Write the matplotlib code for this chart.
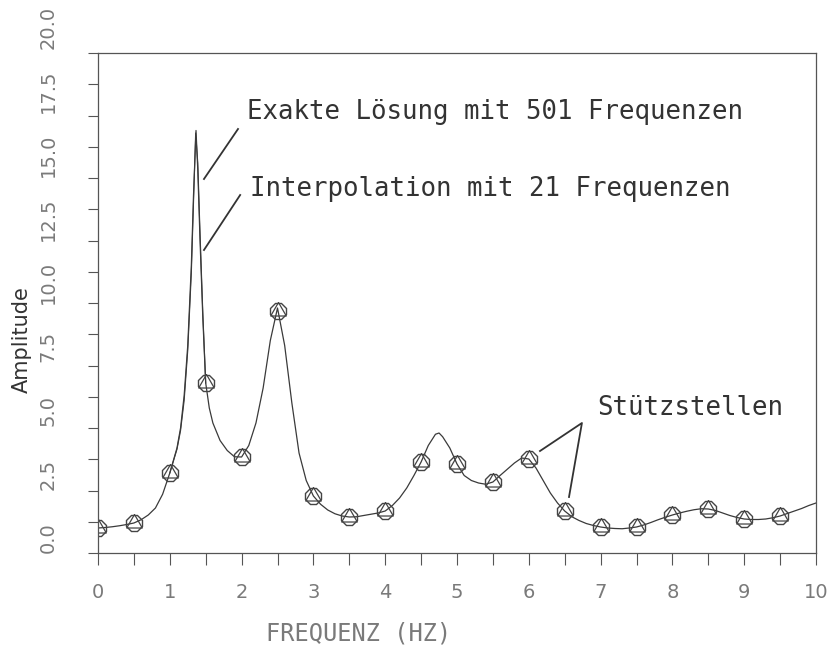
import matplotlib
matplotlib.use('Agg')
import matplotlib.pyplot as plt
from matplotlib.transforms import ScaledTranslation

# ---- data ----
freq_exact = [0.0, 0.1, 0.2, 0.3, 0.4, 0.5, 0.6, 0.7, 0.8, 0.9, 1.0, 1.1, 1.15, 1.2, 1.25,
              1.3, 1.33, 1.365, 1.39, 1.42, 1.46, 1.5, 1.55, 1.6, 1.7, 1.8, 1.9, 2.0,
              2.1, 2.2, 2.3, 2.4, 2.5, 2.6, 2.7, 2.8, 2.9, 3.0, 3.1, 3.2, 3.3, 3.4, 3.5,
              3.6, 3.7, 3.8, 3.9, 4.0, 4.1, 4.2, 4.3, 4.4, 4.5, 4.6, 4.7, 4.75, 4.8, 4.9,
              5.0, 5.1, 5.2, 5.3, 5.4, 5.5, 5.6, 5.7, 5.8, 5.9, 6.0, 6.1, 6.2, 6.3, 6.4,
              6.5, 6.6, 6.7, 6.8, 6.9, 7.0, 7.1, 7.2, 7.3, 7.4, 7.5, 7.6, 7.7, 7.8, 7.9,
              8.0, 8.1, 8.2, 8.3, 8.4, 8.5, 8.6, 8.7, 8.8, 8.9, 9.0, 9.1, 9.2, 9.3, 9.4,
              9.5, 9.6, 9.7, 9.8, 9.9, 10.0]
amp_exact = [1.0, 1.02, 1.05, 1.09, 1.14, 1.2, 1.33, 1.52, 1.8, 2.35, 3.2, 4.2, 5.0, 6.3, 8.3,
             11.5, 14.3, 16.9, 15.3, 12.6, 9.4, 6.8, 5.8, 5.2, 4.5, 4.1, 3.85, 3.84,
             4.3, 5.2, 6.6, 8.5, 9.8, 8.3, 6.0, 4.0, 2.9, 2.28, 1.95, 1.72, 1.57, 1.48, 1.44,
             1.45, 1.5, 1.55, 1.6, 1.68, 1.9, 2.2, 2.6, 3.1, 3.64, 4.3, 4.75, 4.8, 4.65, 4.2,
             3.56, 3.1, 2.9, 2.8, 2.75, 2.84, 3.1, 3.35, 3.6, 3.8, 3.76, 3.4, 2.9, 2.4, 2.0,
             1.68, 1.45, 1.3, 1.18, 1.1, 1.04, 1.0, 0.98, 0.97, 1.0, 1.04, 1.12, 1.22, 1.33, 1.43,
             1.52, 1.6, 1.67, 1.73, 1.77, 1.76, 1.7, 1.6, 1.5, 1.42, 1.36, 1.34, 1.34, 1.36, 1.41,
             1.48, 1.58, 1.68, 1.78, 1.9, 2.0]

freq_interp = [1.0, 1.1, 1.15, 1.2, 1.25, 1.3, 1.33, 1.36, 1.39, 1.42, 1.46, 1.5]
amp_interp = [3.2, 4.15, 4.9, 6.1, 8.1, 11.2, 14.0, 16.8, 15.6, 12.9, 9.6, 6.8]

freq_nodes = [0.0, 0.5, 1.0, 1.5, 2.0, 2.5, 3.0, 3.5, 4.0, 4.5,
              5.0, 5.5, 6.0, 6.5, 7.0, 7.5, 8.0, 8.5, 9.0, 9.5]
amp_nodes = [1.0, 1.2, 3.2, 6.8, 3.84, 9.68, 2.28, 1.44, 1.68, 3.64,
             3.56, 2.84, 3.76, 1.68, 1.04, 1.04, 1.52, 1.76, 1.36, 1.48]

x_ticks = [0, 1, 2, 3, 4, 5, 6, 7, 8, 9, 10]
x_minor = [0.5, 1.5, 2.5, 3.5, 4.5, 5.5, 6.5, 7.5, 8.5, 9.5]
x_tick_labels = ['0', '1', '2', '3', '4', '5', '6', '7', '8', '9', '10']
y_ticks = [0.0, 2.5, 5.0, 7.5, 10.0, 12.5, 15.0, 17.5, 20.0]
y_minor = [1.25, 3.75, 6.25, 8.75, 11.25, 13.75, 16.25, 18.75]
y_tick_labels = ['0.0', '2.5', '5.0', '7.5', '10.0', '12.5', '15.0', '17.5', '20.0']

# annotation texts and leader lines (data coordinates)
ann_texts = [(2.075, 17.64, 'Exakte Lösung mit 501 Frequenzen'),
             (2.117, 14.56, 'Interpolation mit 21 Frequenzen'),
             (6.96, 5.8, 'Stützstellen')]
leaders = [([1.95, 1.476], [16.96, 14.96]),
           ([1.98, 1.476], [14.32, 12.12]),
           ([6.156, 6.74, 6.56], [4.08, 5.2, 2.24])]

# inscribed-triangle marker shape
tri_marker = [(0, 1), (-0.866, -0.5), (0.866, -0.5), (0, 1)]

# ---- figure ----
fig = plt.figure(figsize=(8.37, 6.49), dpi=100)
ax = fig.add_axes([98 / 837, 96 / 649, 718 / 837, 500 / 649])
ax.set_xlim(0, 10)
ax.set_ylim(0, 20)

line_col = '#3a3a3a'
ax.plot(freq_exact, amp_exact, color=line_col, lw=0.9)
ax.plot(freq_interp, amp_interp, color=line_col, lw=0.8)
ax.plot(freq_nodes, amp_nodes, ls='none', marker='8', ms=13, mfc='none',
        mec='#444444', mew=1.0)
ax.plot(freq_nodes, amp_nodes, ls='none', marker=tri_marker, ms=13, mfc='none',
        mec='#444444', mew=0.9)

for xs, ys in leaders:
    ax.plot(xs, ys, color='#333333', lw=1.3)
for tx, ty, s in ann_texts:
    ax.text(tx, ty, s, family='DejaVu Sans Mono', fontsize=18.5, va='center',
            ha='left', color='#333333')

for sp in ['top', 'right', 'left', 'bottom']:
    ax.spines[sp].set_color('#555555')
    ax.spines[sp].set_linewidth(0.9)

ax.set_xticks(x_ticks)
ax.set_xticks(x_minor, minor=True)
ax.set_xticklabels(x_tick_labels)
ax.set_yticks(y_ticks)
ax.set_yticks(y_minor, minor=True)
ax.set_yticklabels(y_tick_labels, rotation=90, va='center')

ax.tick_params(axis='x', which='both', direction='out', length=8.6, width=0.8,
               color='#555555', pad=13, labelsize=14, labelcolor='#7a7a7a')
ax.tick_params(axis='y', which='both', direction='out', length=7.2, width=0.8,
               color='#555555', pad=22, labelsize=14, labelcolor='#7a7a7a')

for i, tick in enumerate(ax.yaxis.get_major_ticks()):
    dy = (15 + 1.3 * i) / 100.0
    lab = tick.label1
    lab.set_transform(lab.get_transform() + ScaledTranslation(0, dy, fig.dpi_scale_trans))

ax.set_xlabel('FREQUENZ (HZ)', family='DejaVu Sans Mono', fontsize=17, color='#7a7a7a')
ax.xaxis.set_label_coords((359 - 98) / 718, (553 - 622) / 500)
ax.set_ylabel('Amplitude', fontsize=15, color='#333333')
ax.yaxis.set_label_coords(-0.092, 0.426)

fig.savefig('out.png', dpi=100)
